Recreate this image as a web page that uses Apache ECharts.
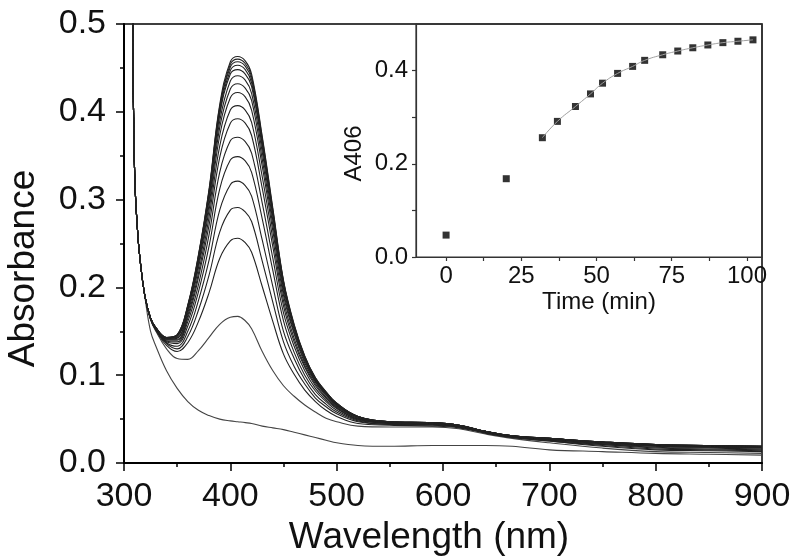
<!DOCTYPE html>
<html><head><meta charset="utf-8">
<script src="https://cdn.jsdelivr.net/npm/echarts@6/dist/echarts.min.js"></script>
<style>html,body{margin:0;padding:0;background:#fff}#c{width:800px;height:556px}</style>
</head><body><div id="c"></div>
<script>
// Wavelength grid (nm)
const wavelengths = [305,308,310,313,316,320,325,330,340,350,360,370,380,390,400,407,414,420,430,440,450,460,470,480,490,500,520,550,590,615,640,665,700,750,800,850,900];
// Spectra (earliest to latest)
const spec00 = [0.90,0.52,0.33,0.26,0.222,0.186,0.150,0.133,0.105,0.085,0.070,0.060,0.054,0.050,0.048,0.047,0.046,0.045,0.042,0.040,0.038,0.035,0.032,0.029,0.026,0.023,0.020,0.019,0.020,0.020,0.020,0.019,0.015,0.013,0.011,0.010,0.009];
const spec01 = [0.90,0.52,0.33,0.26,0.222,0.188,0.163,0.150,0.130,0.119,0.118,0.128,0.143,0.158,0.166,0.167,0.162,0.153,0.127,0.105,0.088,0.076,0.066,0.058,0.051,0.047,0.042,0.041,0.041,0.039,0.033,0.028,0.023,0.017,0.013,0.012,0.011];
const spec02 = [0.90,0.52,0.33,0.26,0.222,0.188,0.164,0.151,0.134,0.127,0.137,0.161,0.194,0.233,0.253,0.256,0.251,0.240,0.201,0.161,0.124,0.101,0.083,0.070,0.060,0.053,0.045,0.043,0.042,0.040,0.034,0.029,0.025,0.019,0.015,0.014,0.013];
const spec03 = [0.90,0.52,0.33,0.26,0.222,0.188,0.164,0.152,0.136,0.130,0.144,0.174,0.214,0.263,0.288,0.291,0.286,0.275,0.230,0.183,0.138,0.110,0.090,0.074,0.064,0.056,0.047,0.044,0.043,0.041,0.034,0.029,0.025,0.020,0.016,0.015,0.014];
const spec04 = [0.90,0.52,0.33,0.26,0.222,0.188,0.164,0.152,0.137,0.133,0.150,0.185,0.231,0.288,0.317,0.321,0.316,0.304,0.254,0.201,0.150,0.119,0.095,0.078,0.067,0.058,0.048,0.044,0.044,0.041,0.035,0.030,0.026,0.021,0.017,0.016,0.015];
const spec05 = [0.90,0.52,0.33,0.26,0.222,0.188,0.164,0.152,0.138,0.136,0.156,0.195,0.247,0.312,0.345,0.349,0.344,0.331,0.278,0.219,0.162,0.126,0.100,0.082,0.070,0.060,0.049,0.045,0.044,0.041,0.035,0.030,0.026,0.021,0.018,0.017,0.016];
const spec06 = [0.90,0.52,0.33,0.26,0.222,0.188,0.164,0.153,0.139,0.138,0.161,0.203,0.260,0.331,0.367,0.371,0.366,0.353,0.296,0.233,0.171,0.133,0.105,0.085,0.072,0.062,0.050,0.045,0.044,0.042,0.035,0.030,0.027,0.022,0.019,0.018,0.017];
const spec07 = [0.90,0.52,0.33,0.26,0.222,0.188,0.165,0.153,0.140,0.140,0.165,0.211,0.271,0.348,0.387,0.392,0.387,0.373,0.313,0.246,0.179,0.138,0.109,0.088,0.074,0.063,0.050,0.046,0.045,0.042,0.035,0.030,0.027,0.022,0.019,0.018,0.017];
const spec08 = [0.90,0.52,0.33,0.26,0.222,0.188,0.165,0.153,0.141,0.141,0.168,0.216,0.280,0.361,0.402,0.407,0.402,0.388,0.326,0.255,0.185,0.142,0.111,0.090,0.075,0.064,0.051,0.046,0.045,0.042,0.035,0.030,0.027,0.023,0.020,0.019,0.018];
const spec09 = [0.90,0.52,0.33,0.26,0.222,0.188,0.165,0.153,0.141,0.142,0.171,0.222,0.288,0.373,0.416,0.422,0.417,0.402,0.338,0.264,0.191,0.147,0.114,0.092,0.077,0.065,0.051,0.046,0.045,0.042,0.036,0.031,0.027,0.023,0.020,0.019,0.018];
const spec10 = [0.90,0.52,0.33,0.26,0.222,0.188,0.165,0.154,0.142,0.143,0.174,0.226,0.294,0.382,0.426,0.432,0.427,0.413,0.346,0.271,0.195,0.149,0.116,0.093,0.078,0.066,0.052,0.046,0.045,0.043,0.036,0.031,0.028,0.023,0.020,0.019,0.018];
const spec11 = [0.90,0.52,0.33,0.26,0.222,0.188,0.165,0.154,0.142,0.144,0.175,0.229,0.299,0.389,0.435,0.441,0.436,0.421,0.354,0.276,0.199,0.152,0.118,0.094,0.079,0.066,0.052,0.047,0.046,0.043,0.036,0.031,0.028,0.024,0.020,0.019,0.018];
const spec12 = [0.90,0.52,0.33,0.26,0.222,0.188,0.165,0.154,0.142,0.145,0.177,0.232,0.304,0.396,0.443,0.448,0.443,0.429,0.360,0.281,0.202,0.154,0.119,0.095,0.080,0.067,0.053,0.047,0.046,0.043,0.036,0.031,0.028,0.024,0.021,0.020,0.019];
const spec13 = [0.90,0.52,0.33,0.26,0.222,0.188,0.165,0.154,0.143,0.145,0.178,0.233,0.306,0.399,0.447,0.453,0.448,0.433,0.363,0.284,0.204,0.155,0.120,0.096,0.080,0.067,0.053,0.047,0.046,0.043,0.036,0.031,0.028,0.024,0.021,0.020,0.019];
const spec14 = [0.90,0.52,0.33,0.26,0.222,0.188,0.165,0.154,0.143,0.146,0.179,0.235,0.309,0.403,0.451,0.457,0.452,0.437,0.367,0.286,0.206,0.156,0.121,0.096,0.080,0.068,0.053,0.047,0.046,0.043,0.036,0.031,0.028,0.024,0.021,0.020,0.019];
const spec15 = [0.90,0.52,0.33,0.26,0.222,0.188,0.165,0.154,0.143,0.146,0.179,0.236,0.310,0.406,0.454,0.460,0.455,0.440,0.370,0.288,0.207,0.157,0.121,0.097,0.081,0.068,0.053,0.047,0.046,0.043,0.036,0.031,0.028,0.024,0.021,0.020,0.019];
const spec16 = [0.90,0.52,0.33,0.26,0.222,0.188,0.165,0.154,0.143,0.146,0.180,0.237,0.312,0.408,0.457,0.463,0.458,0.443,0.372,0.290,0.208,0.158,0.122,0.097,0.081,0.068,0.053,0.047,0.046,0.043,0.036,0.031,0.028,0.024,0.021,0.020,0.019];

// Inset: absorbance at 406 nm vs time
const times = [0,20,32,37,43,48,52,57,62,66,72,77,82,87,92,97,102];
const a406 = [0.047,0.168,0.256,0.291,0.323,0.350,0.373,0.394,0.409,0.422,0.434,0.442,0.449,0.455,0.460,0.463,0.466];

// Tick values for the inset
const insetXLabels = [0,25,50,75,100];
const insetXTicks = [0,12.5,25,37.5,50,62.5,75,87.5,100];
const insetYLabels = [0,0.2,0.4];
const insetYTicks = [0,0.1,0.2,0.3,0.4];

const spectra = [spec00,spec01,spec02,spec03,spec04,spec05,spec06,spec07,spec08,spec09,spec10,spec11,spec12,spec13,spec14,spec15,spec16];

const FONT = 'Liberation Sans, Arial, Helvetica, sans-serif';
const TXT = '#111';

const series = spectra.map((s, i) => ({
  type: 'line', xAxisIndex: 0, yAxisIndex: 0,
  data: wavelengths.map((w, j) => [w, s[j]]),
  showSymbol: false, smooth: 0.4, clip: true, silent: true,
  lineStyle: { color: i < 2 ? '#444' : '#222', width: 1.1 }
}));
series.push({
  type: 'line', xAxisIndex: 1, yAxisIndex: 1,
  data: times.slice(2).map((t, k) => [t, a406[k + 2]]),
  showSymbol: false, smooth: true, silent: true,
  lineStyle: { color: '#a0a0a0', width: 1 }
});
series.push({
  type: 'scatter', xAxisIndex: 1, yAxisIndex: 1,
  data: times.map((t, i) => [t, a406[i]]),
  symbol: 'rect', symbolSize: 7, silent: true,
  itemStyle: { color: '#000' }
});

const chart = echarts.init(document.getElementById('c'));
chart.setOption({
  animation: false,
  backgroundColor: '#fff',
  textStyle: { fontFamily: FONT },
  grid: [
    { left: 124, right: 38, top: 24, bottom: 93, containLabel: false, outerBoundsMode: 'none',
      show: true, borderColor: '#000', borderWidth: 1.5, backgroundColor: 'transparent' },
    { left: 416, right: 38, top: 24, bottom: 299, containLabel: false, outerBoundsMode: 'none',
      show: true, borderColor: '#333', borderWidth: 1.2, backgroundColor: 'transparent' }
  ],
  xAxis: [
    { type: 'value', gridIndex: 0, min: 300, max: 900, interval: 100,
      axisLine: { onZero: false, lineStyle: { color: '#000', width: 2 } },
      axisTick: { length: 8, lineStyle: { color: '#000', width: 1.5 } },
      minorTick: { show: true, splitNumber: 2, length: 4, lineStyle: { color: '#000', width: 1.5 } },
      splitLine: { show: false },
      axisLabel: { fontSize: 34, color: TXT, margin: 17, fontFamily: FONT },
      name: 'Wavelength (nm)', nameLocation: 'middle', nameGap: 46,
      nameTextStyle: { fontSize: 37, color: TXT, fontFamily: FONT, padding: [0, 28, 0, 0] } },
    { type: 'value', gridIndex: 1, min: -10, max: 105,
      axisLine: { onZero: false, lineStyle: { color: '#333', width: 1.2 } },
      axisTick: { length: 4, customValues: insetXTicks, lineStyle: { color: '#333', width: 1.2 } },
      splitLine: { show: false },
      axisLabel: { customValues: insetXLabels, fontSize: 24, color: TXT, margin: 7, fontFamily: FONT },
      name: 'Time (min)', nameLocation: 'middle', nameGap: 33,
      nameTextStyle: { fontSize: 24, color: TXT, fontFamily: FONT, padding: [0, 0, 0, 20] } }
  ],
  yAxis: [
    { type: 'value', gridIndex: 0, min: 0, max: 0.5, interval: 0.1,
      axisLine: { onZero: false, lineStyle: { color: '#000', width: 2 } },
      axisTick: { length: 8, lineStyle: { color: '#000', width: 1.5 } },
      minorTick: { show: true, splitNumber: 2, length: 4, lineStyle: { color: '#000', width: 1.5 } },
      splitLine: { show: false },
      axisLabel: { fontSize: 34, color: TXT, margin: 18, fontFamily: FONT, formatter: v => v.toFixed(1) },
      name: 'Absorbance', nameLocation: 'middle', nameGap: 82,
      nameTextStyle: { fontSize: 37, color: TXT, fontFamily: FONT, padding: [0, 50, 0, 0] } },
    { type: 'value', gridIndex: 1, min: 0, max: 0.5,
      axisLine: { onZero: false, lineStyle: { color: '#333', width: 1.2 } },
      axisTick: { length: 4, customValues: insetYTicks, lineStyle: { color: '#333', width: 1.2 } },
      splitLine: { show: false },
      axisLabel: { customValues: insetYLabels, fontSize: 24, color: TXT, margin: 8, fontFamily: FONT, formatter: v => v.toFixed(1) },
      name: 'A406', nameLocation: 'middle', nameGap: 50,
      nameTextStyle: { fontSize: 24, color: TXT, fontFamily: FONT, padding: [0, 26, 0, 0] } }
  ],
  series: series
});
</script>
</body></html>
